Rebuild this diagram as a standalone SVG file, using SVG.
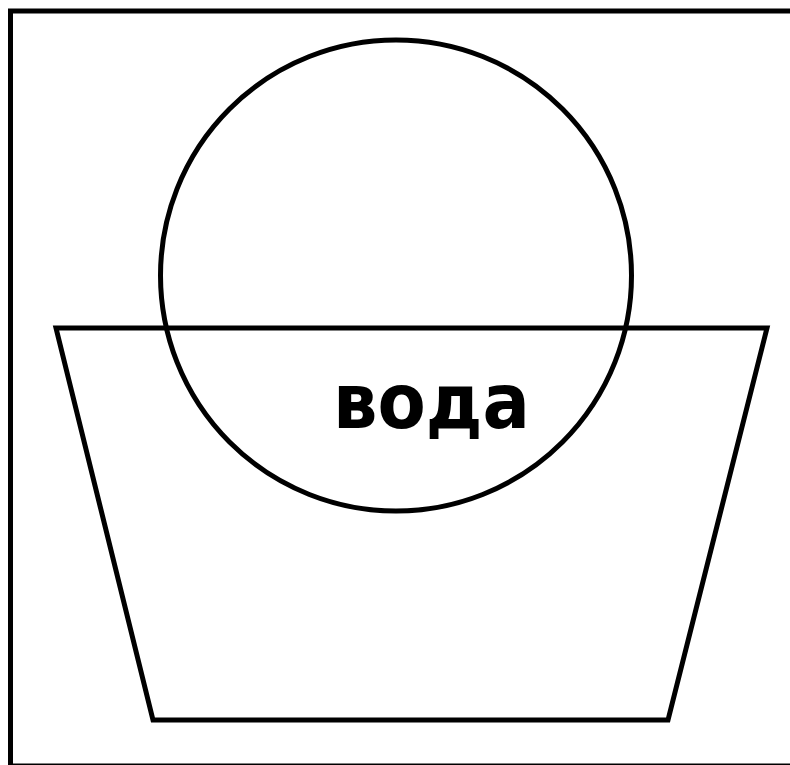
<svg xmlns="http://www.w3.org/2000/svg" width="790" height="765" viewBox="0 0 790 765">
<style>
.s{fill:none;stroke:#000;stroke-width:5;stroke-linejoin:miter}
.t{font-family:"DejaVu Sans","Open Sans",sans-serif;font-weight:bold;font-size:76px;fill:#000}
</style>
<rect x="0" y="0" width="790" height="765" fill="#fff"/>
<g id="frame"><rect class="s" x="10.5" y="11" width="782" height="755"/></g>
<g id="basin"><polygon class="s" points="56,328 767,328 668,720 153,720"/></g>
<g id="ball"><circle class="s" cx="396" cy="275.5" r="235.5"/></g>
<g id="label"><text class="t" x="333" y="428" textLength="197" lengthAdjust="spacingAndGlyphs">вода</text></g>
</svg>
